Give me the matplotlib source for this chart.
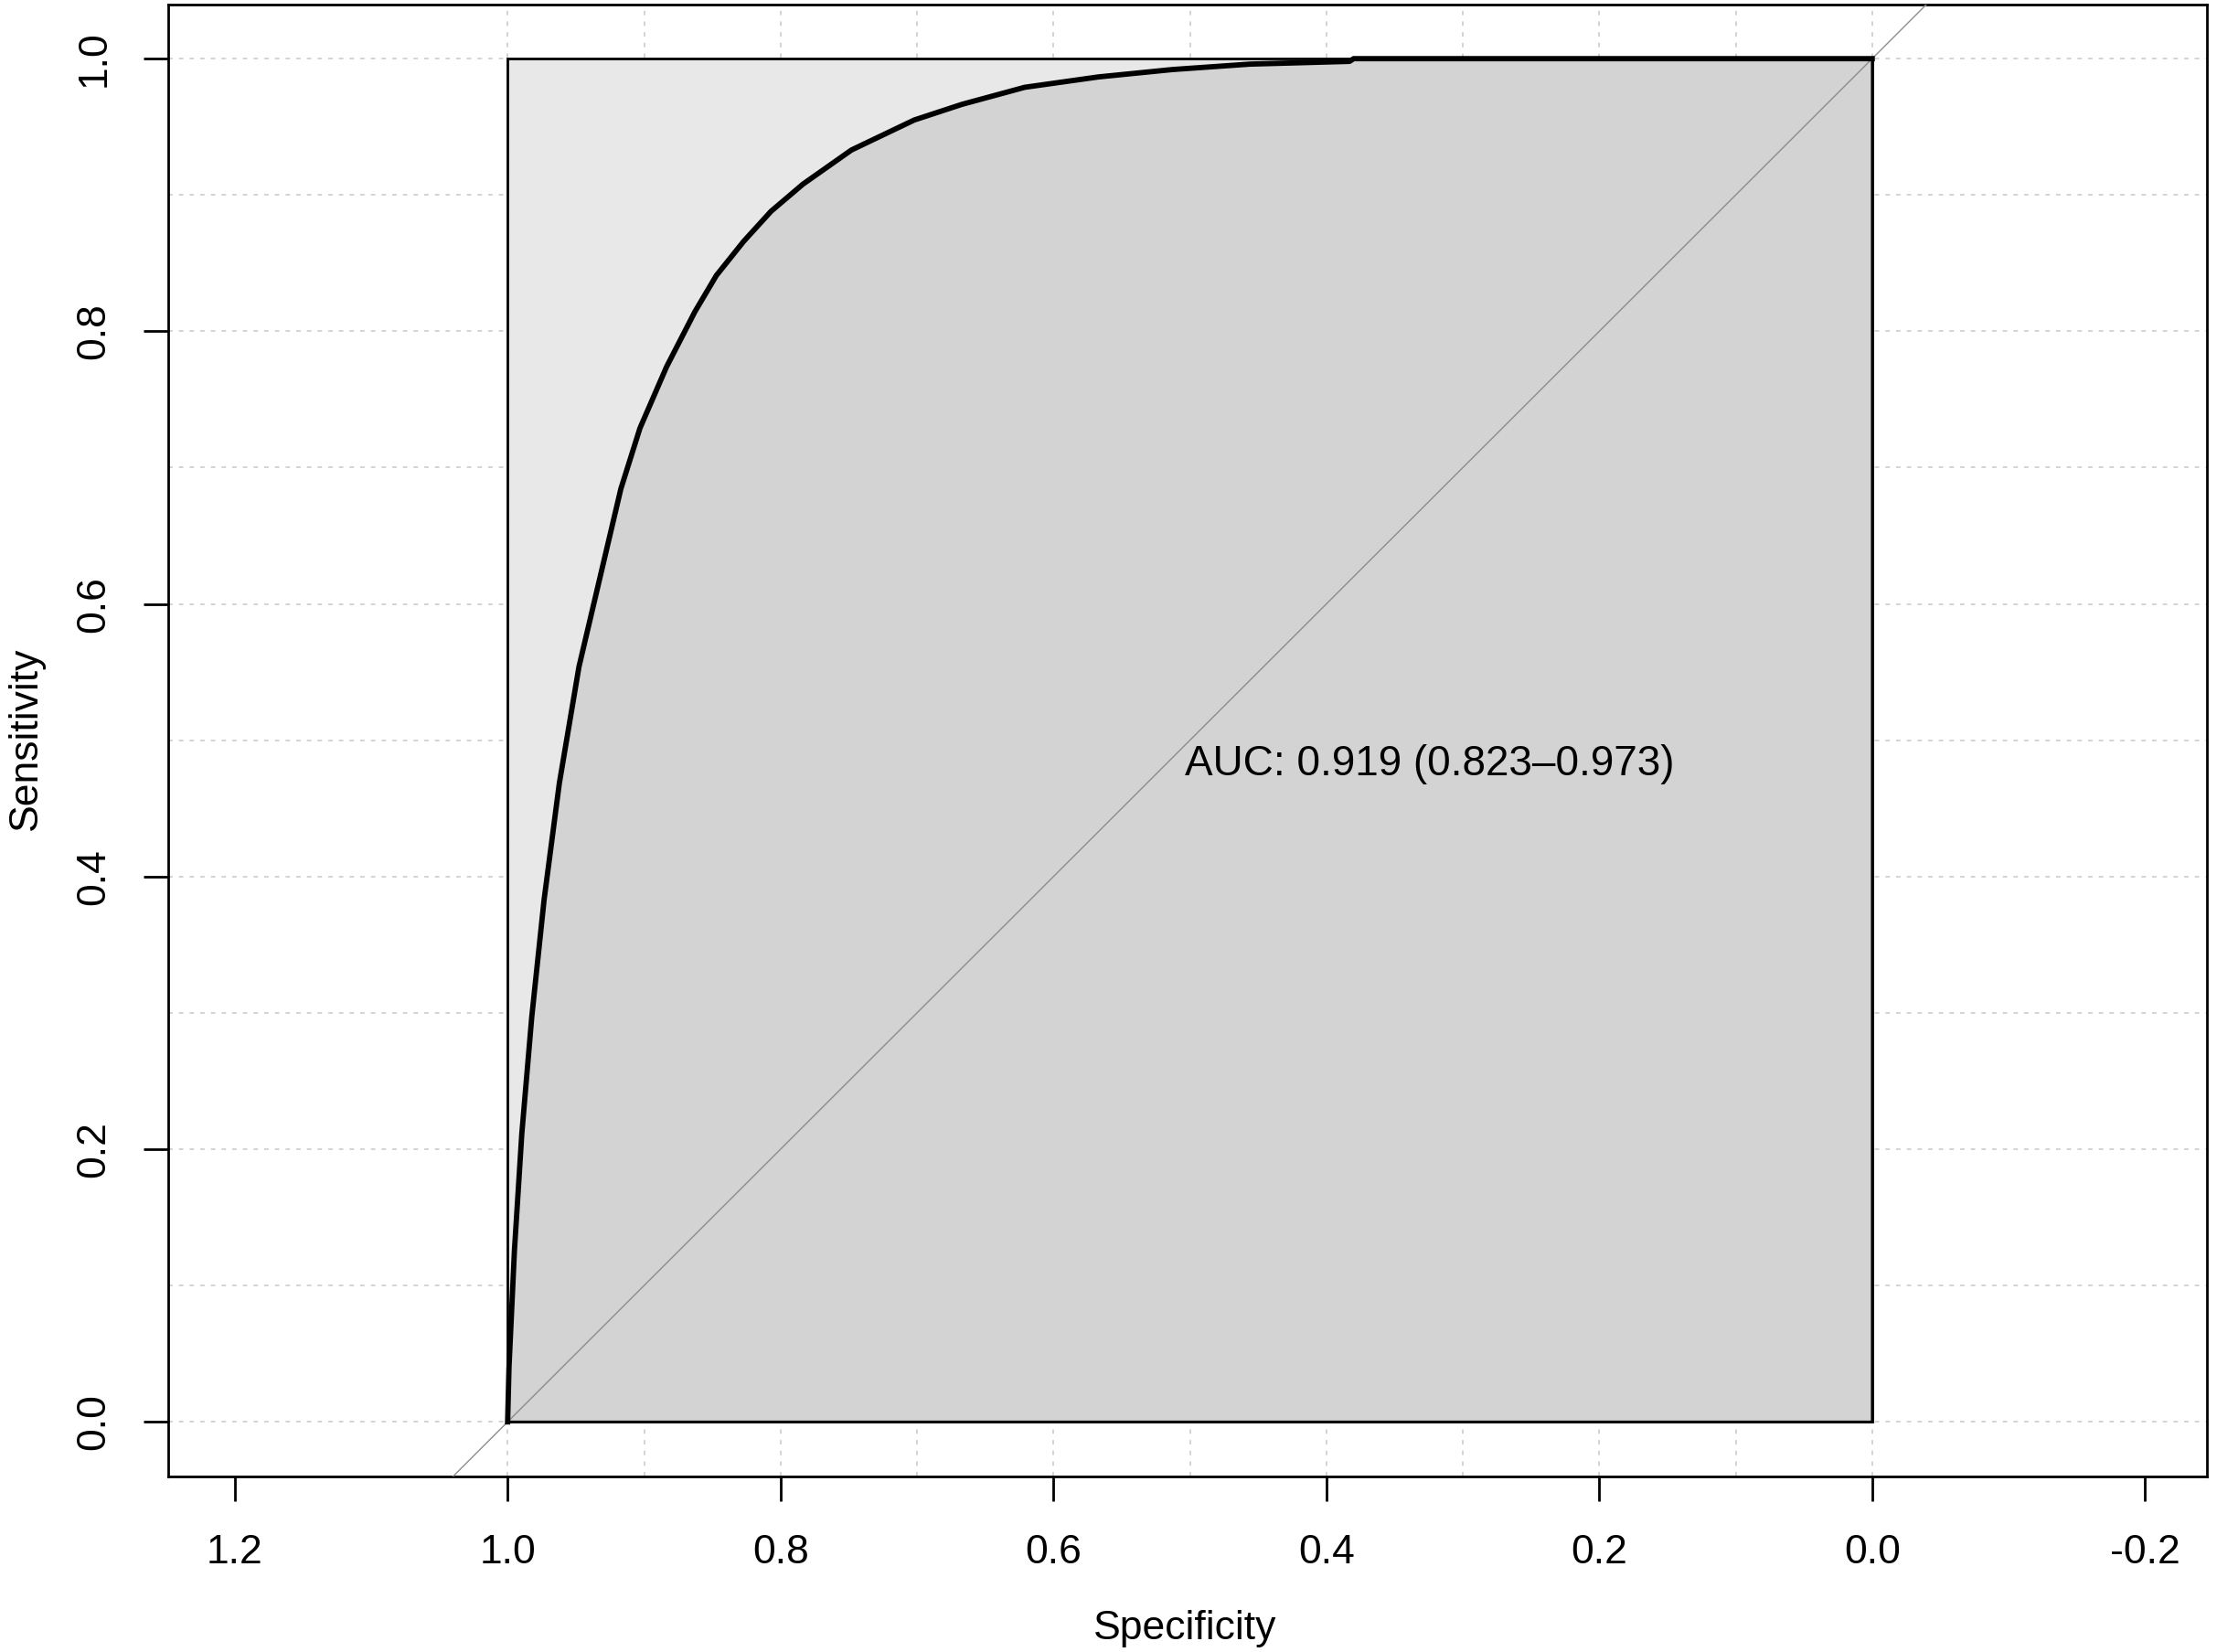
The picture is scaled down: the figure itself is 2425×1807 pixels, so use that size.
import numpy as np
import matplotlib
matplotlib.use('Agg')
import matplotlib.pyplot as plt

plt.rcParams['font.family'] = ['Liberation Sans', 'DejaVu Sans']

# ROC curve (specificity, sensitivity)
specificity = [1.000, 0.999, 0.997, 0.995, 0.9896, 0.9823, 0.9733, 0.9621,
               0.9477, 0.927, 0.917, 0.903, 0.8835, 0.8628, 0.847, 0.827,
               0.807, 0.7835, 0.748, 0.702, 0.667, 0.621, 0.567, 0.513,
               0.456, 0.383, 0.380, 0.000]
sensitivity = [0.000, 0.040, 0.083, 0.126, 0.2115, 0.2972, 0.3828, 0.4685,
               0.554, 0.642, 0.6845, 0.729, 0.774, 0.8143, 0.841, 0.866,
               0.888, 0.908, 0.933, 0.955, 0.9665, 0.979, 0.9866, 0.992,
               0.996, 0.998, 1.000, 1.000]

x_ticks = [1.2, 1.0, 0.8, 0.6, 0.4, 0.2, 0.0, -0.2]
y_ticks = [0.0, 0.2, 0.4, 0.6, 0.8, 1.0]
grid_steps = np.round(np.arange(0, 1.01, 0.1), 1)

auc_label = "AUC: 0.919 (0.823\u20130.973)"

fig = plt.figure(figsize=(24.25, 18.07), dpi=100)
ax = fig.add_axes([0.0759, 0.1063, 0.9196, 0.8912])

ax.set_xlim(1.2487, -0.2454)
ax.set_ylim(-0.04, 1.04)

# grid lines (under everything)
for g in grid_steps:
    ax.axvline(g, color='#d3d3d3', lw=1.4, ls=(0, (2.5, 3.5)), zorder=0)
    ax.axhline(g, color='#d3d3d3', lw=1.4, ls=(0, (2.5, 3.5)), zorder=0)

# max AUC square
ax.fill([1, 1, 0, 0], [0, 1, 1, 0], facecolor='#e8e8e8', edgecolor='black',
        lw=2.0, zorder=1)

# AUC polygon under the curve
sp = np.array(specificity)
se = np.array(sensitivity)
ax.fill(np.append(sp, [0, 1]), np.append(se, [0, 0]), facecolor='#d3d3d3',
        edgecolor='black', lw=2.0, zorder=2)

# chance diagonal across the whole plot
ax.axline((1, 0), (0, 1), color='#8c8c8c', lw=1.0, zorder=3)

ax.plot(sp, se, color='black', lw=4.2, zorder=4)

ax.text(0.5036, 0.497, auc_label, ha='left', va='top', fontsize=33, zorder=5)

ax.set_xticks(x_ticks)
ax.set_xticklabels(['%.1f' % v for v in x_ticks])
ax.set_yticks(y_ticks)
ax.set_yticklabels(['%.1f' % v for v in y_ticks], rotation=90, va='center')
ax.tick_params(axis='both', direction='out', length=19.5, width=2.0,
               labelsize=32)
ax.tick_params(axis='x', pad=26)
ax.tick_params(axis='y', pad=24)

for s in ax.spines.values():
    s.set_linewidth(2.0)

fig.text(1296 / 2425, 1 - 1782 / 1807, 'Specificity', ha='center',
         va='center', fontsize=32)
fig.text(28 / 2425, 1 - 808 / 1807, 'Sensitivity', ha='center',
         va='center', rotation=90, fontsize=32)

fig.savefig('out.png', dpi=100)
